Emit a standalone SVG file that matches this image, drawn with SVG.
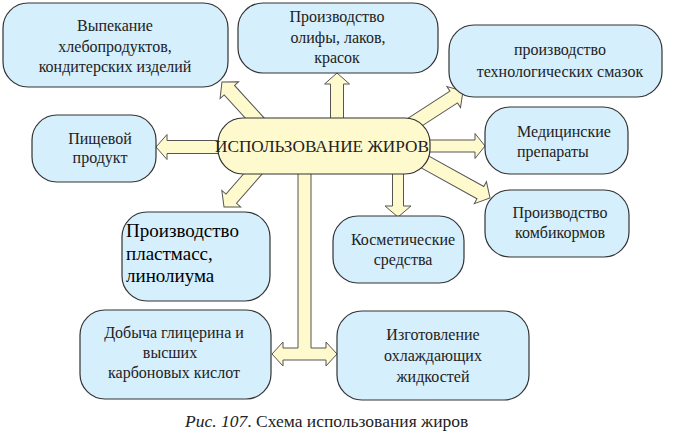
<svg xmlns="http://www.w3.org/2000/svg" width="673" height="437" viewBox="0 0 673 437">
<style>
.box{fill:#d5effd;stroke:#333;stroke-width:1.2}
.ctr{fill:#fffacd;stroke:#333;stroke-width:1.2}
.arr{fill:#fffacd;stroke:#555;stroke-width:1}
text{fill:#222;font-size:16px}
.c{text-anchor:middle}
.big{font-size:19px;fill:#000}
</style>
<rect width="673" height="437" fill="#fff"/>
<g id="connectors">
<path class="arr" transform="translate(337,125) rotate(-90)" d="M0,-6.5 H41 V-12.5 L52,0 L41,12.5 V6.5 H0 Z"/>
<path class="arr" transform="translate(262,126) rotate(-132.3)" d="M0,-7 H48.5 V-12.5 L59.5,0 L48.5,12.5 V7 H0 Z"/>
<path class="arr" transform="translate(225,147) rotate(180)" d="M0,-6.5 H58 V-12.5 L69,0 L58,12.5 V6.5 H0 Z"/>
<path class="arr" transform="translate(258,168) rotate(131.1)" d="M0,-7 H40.7 V-12.5 L51.7,0 L40.7,12.5 V7 H0 Z"/>
<path class="arr" transform="translate(412,124) rotate(-32.9)" d="M0,-7 H49.7 V-12.5 L60.7,0 L49.7,12.5 V7 H0 Z"/>
<path class="arr" transform="translate(420,146) rotate(0)" d="M0,-6 H55 V-12.5 L65,0 L55,12.5 V6 H0 Z"/>
<path class="arr" transform="translate(416,157) rotate(29)" d="M0,-7 H73.6 V-12.5 L84.6,0 L73.6,12.5 V7 H0 Z"/>
<path class="arr" transform="translate(398,168) rotate(90)" d="M0,-5.5 H38 V-13 L49,0 L38,13 V5.5 H0 Z"/>
<path class="arr" d="M298,168 V348 H283 V342 L272,354 L283,366 V360 H326 V366 L337,354 L326,342 V348 H311 V168 Z"/>
</g>
<g font-family="'Liberation Serif', 'DejaVu Serif', 'Times New Roman', serif">
<g id="center">
<rect class="ctr" x="218" y="118" width="212" height="56" rx="25"/>
<text class="c" x="322" y="152" textLength="214" lengthAdjust="spacingAndGlyphs">ИСПОЛЬЗОВАНИЕ ЖИРОВ</text>
</g>
<g id="n1">
<rect class="box" x="3" y="3" width="225" height="84" rx="25"/>
<text class="c" x="115" y="31">Выпекание</text>
<text class="c" x="115" y="52">хлебопродуктов,</text>
<text class="c" x="115" y="72">кондитерских изделий</text>
</g>
<g id="n2">
<rect class="box" x="238" y="3" width="200" height="70" rx="25"/>
<text class="c" x="337" y="22">Производство</text>
<text class="c" x="338" y="43">олифы, лаков,</text>
<text class="c" x="337" y="63">красок</text>
</g>
<g id="n3">
<rect class="box" x="449" y="25" width="213" height="72" rx="25"/>
<text class="c" x="560" y="55">производство</text>
<text class="c" x="560" y="77">технологических смазок</text>
</g>
<g id="n4">
<rect class="box" x="485" y="107" width="143" height="67" rx="25"/>
<text x="517" y="137">Медицинские</text>
<text x="517" y="157">препараты</text>
</g>
<g id="n5">
<rect class="box" x="485" y="190" width="144" height="67" rx="25"/>
<text class="c" x="560" y="218">Производство</text>
<text class="c" x="560" y="238">комбикормов</text>
</g>
<g id="n6">
<rect class="box" x="333" y="216" width="131" height="67" rx="25"/>
<text class="c" x="403" y="245">Косметические</text>
<text class="c" x="403" y="265">средства</text>
</g>
<g id="n7">
<rect class="box" x="337" y="311" width="192" height="89" rx="25"/>
<text class="c" x="433" y="340">Изготовление</text>
<text class="c" x="433" y="361">охлаждающих</text>
<text class="c" x="433" y="382">жидкостей</text>
</g>
<g id="n8">
<rect class="box" x="80" y="310" width="191" height="89" rx="25"/>
<text class="c" x="174" y="338">Добыча глицерина и</text>
<text class="c" x="170" y="358">высших</text>
<text class="c" x="174" y="378">карбоновых кислот</text>
</g>
<g id="n9">
<rect class="box" x="122" y="212" width="148" height="89" rx="25"/>
<text class="big" x="126" y="237">Производство</text>
<text class="big" x="126" y="260">пластмасс,</text>
<text class="big" x="126" y="282">линолиума</text>
</g>
<g id="n10">
<rect class="box" x="32" y="115" width="124" height="67" rx="25"/>
<text class="c" x="100" y="144">Пищевой</text>
<text class="c" x="100" y="163">продукт</text>
</g>
<text x="185" y="427" style="font-size:17.5px"><tspan font-style="italic">Рис. 107</tspan>. Схема использования жиров</text>
</g>
</svg>
